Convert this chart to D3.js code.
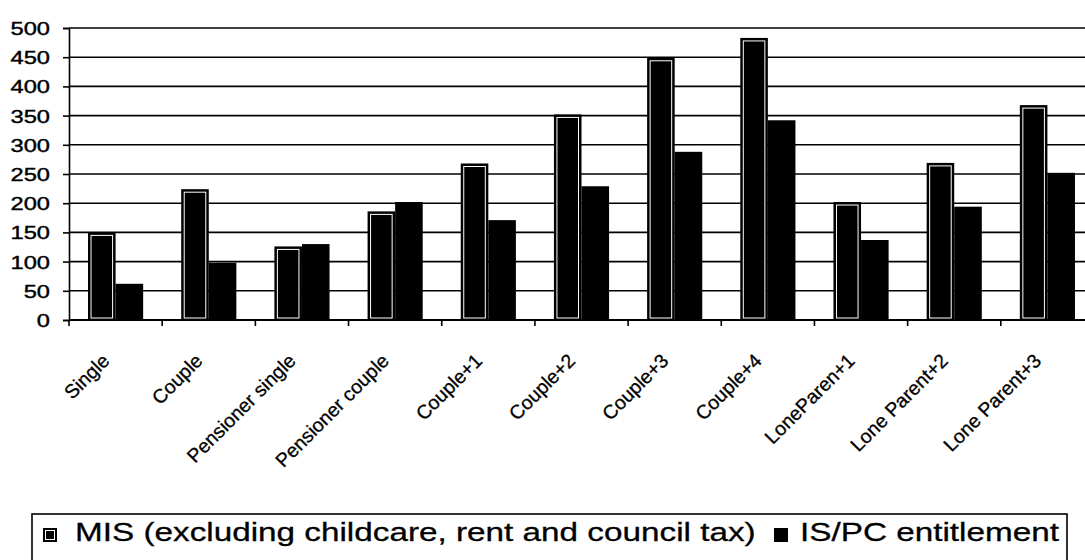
<!DOCTYPE html>
<html>
<head>
<meta charset="utf-8">
<script src="https://cdn.jsdelivr.net/npm/d3@7"></script>
<style>
  html, body { margin: 0; padding: 0; background: #fff; }
  svg { display: block; font-family: "Liberation Sans", Arial, sans-serif; }
</style>
</head>
<body>
<svg id="chart" width="1085" height="560"></svg>
<script>
// Household types
const categories = ["Single", "Couple", "Pensioner single", "Pensioner couple", "Couple+1",
  "Couple+2", "Couple+3", "Couple+4", "LoneParen+1", "Lone Parent+2", "Lone Parent+3"];
// Weekly amounts (£)
const misValues = [150, 224, 126, 186, 268, 352, 449, 483, 202, 269, 368];
const ispcValues = [62, 98, 130, 202, 171, 229, 288, 342, 137, 194, 252];
const seriesNames = ["MIS (excluding childcare, rent and council tax)", "IS/PC entitlement"];
const yTicks = [0, 50, 100, 150, 200, 250, 300, 350, 400, 450, 500];

const svg = d3.select("#chart");
const plot = { left: 69, top: 28, right: 1094, bottom: 320 };
const textStretch = 1.28;

const x0 = d3.scaleBand().domain(categories).range([plot.left, plot.right]).padding(0);
const x1 = d3.scaleBand().domain(seriesNames).range([0, x0.bandwidth()])
  .paddingInner(0).paddingOuter(0.69);
const y = d3.scaleLinear().domain([0, 500]).range([plot.bottom, plot.top]);

// Horizontal gridlines
svg.append("g").selectAll("line").data(yTicks.filter(d => d > 0)).join("line")
  .attr("x1", plot.left).attr("x2", plot.right)
  .attr("y1", d => y(d)).attr("y2", d => y(d))
  .attr("stroke", "#000").attr("stroke-width", 1.6);

// Y axis
const yAxis = svg.append("g").attr("transform", `translate(${plot.left},0)`)
  .call(d3.axisLeft(y).tickValues(yTicks).tickSize(6).tickPadding(0).tickFormat(d3.format("d")));
yAxis.select(".domain").attr("stroke", "#000").attr("stroke-width", 1.6);
yAxis.selectAll(".tick line").attr("stroke", "#000").attr("stroke-width", 1.6);
yAxis.selectAll(".tick text")
  .attr("x", null).attr("dy", null)
  .attr("text-anchor", "end")
  .attr("font-size", 18.5)
  .attr("fill", "#000").attr("stroke", "#000").attr("stroke-width", 0.4)
  .attr("transform", `translate(-19,6.5) scale(${textStretch},1)`);

// Category groups
const groups = svg.append("g").selectAll("g").data(categories).join("g")
  .attr("transform", d => `translate(${x0(d)},0)`);

// MIS bars are black with an inset white outline; IS/PC bars are solid black
groups.each(function(c, i) {
  const g = d3.select(this);
  const bw = x1.bandwidth();
  const bx = x1(seriesNames[0]);
  const v = misValues[i];
  g.append("rect")
    .attr("x", bx).attr("y", y(v)).attr("width", bw).attr("height", y(0) - y(v))
    .attr("fill", "#000");
  g.append("rect")
    .attr("x", bx + 3).attr("y", y(v) + 3).attr("width", bw - 6).attr("height", y(0) - y(v) - 5)
    .attr("fill", "none").attr("stroke", "#fff").attr("stroke-width", 1);
  const bx2 = x1(seriesNames[1]);
  const v2 = ispcValues[i];
  g.append("rect")
    .attr("x", bx2).attr("y", y(v2)).attr("width", bw).attr("height", y(0) - y(v2))
    .attr("fill", "#000");
});

// X axis
const xAxis = svg.append("g").attr("transform", `translate(0,${plot.bottom})`);
xAxis.append("line").attr("x1", plot.left).attr("x2", plot.right)
  .attr("stroke", "#000").attr("stroke-width", 1.8);
xAxis.selectAll(".tk").data(categories.concat([null])).join("line").attr("class", "tk")
  .attr("x1", d => d === null ? plot.right : x0(d))
  .attr("x2", d => d === null ? plot.right : x0(d))
  .attr("y1", 0).attr("y2", 6)
  .attr("stroke", "#000").attr("stroke-width", 1.6);
xAxis.selectAll(".lbl").data(categories).join("text").attr("class", "lbl")
  .attr("text-anchor", "end")
  .attr("font-size", 19.5)
  .attr("fill", "#000").attr("stroke", "#000").attr("stroke-width", 0.3)
  .attr("transform", d => `translate(${x0(d) + x0.bandwidth() / 2 - 5},42) rotate(-45)`)
  .text(d => d);

// Legend
const legend = svg.append("g");
legend.append("rect").attr("x", 32).attr("y", 514).attr("width", 1035).attr("height", 70)
  .attr("fill", "#fff").attr("stroke", "#000").attr("stroke-width", 1.6);
legend.append("rect").attr("x", 43).attr("y", 528).attr("width", 14).attr("height", 14).attr("fill", "#000");
legend.append("rect").attr("x", 45.5).attr("y", 530.5).attr("width", 9).attr("height", 9)
  .attr("fill", "none").attr("stroke", "#fff").attr("stroke-width", 1);
legend.append("text").attr("font-size", 26).attr("fill", "#000")
  .attr("stroke", "#000").attr("stroke-width", 0.3)
  .attr("transform", `translate(75,541) scale(${textStretch},1)`)
  .text(seriesNames[0]);
legend.append("rect").attr("x", 774).attr("y", 528).attr("width", 14).attr("height", 14).attr("fill", "#000");
legend.append("text").attr("font-size", 26).attr("fill", "#000")
  .attr("stroke", "#000").attr("stroke-width", 0.3)
  .attr("transform", `translate(800,541) scale(${textStretch},1)`)
  .text(seriesNames[1]);
</script>
</body>
</html>
